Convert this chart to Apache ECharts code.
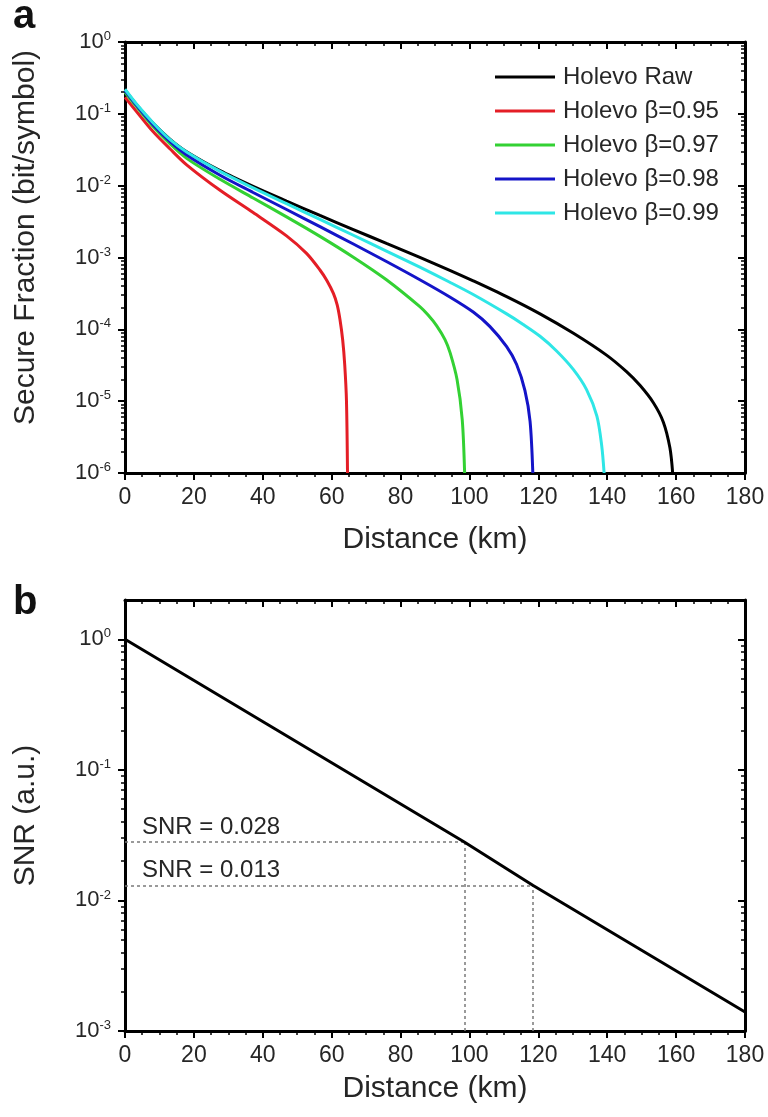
<!DOCTYPE html>
<html><head><meta charset="utf-8">
<script src="https://cdn.jsdelivr.net/npm/echarts@6/dist/echarts.min.js"></script>
<style>html,body{margin:0;padding:0;background:#fff}#c{width:768px;height:1117px}</style>
</head><body><div id="c"></div>
<script>
// ---- data ----
const seriesNames = ['Holevo Raw', 'Holevo β=0.95', 'Holevo β=0.97', 'Holevo β=0.98', 'Holevo β=0.99'];
const seriesColors = ['#000000', '#e41e26', '#33d133', '#1414c8', '#2ee6e6'];

const rawDist = [0, 3.4, 8.2, 13.1, 17.9, 27.6, 37.2, 46.9, 56.6, 66.3, 75.9, 85.6, 94.3, 101.1, 110.8, 120.5, 130.2, 139.8, 145.6, 149.5, 153.4, 156.3, 158.2, 159.0];
const rawFrac = [0.215, 0.133, 0.0738, 0.0442, 0.0297, 0.0162, 0.00977, 0.0061, 0.00385, 0.00245, 0.00157, 0.001005, 0.000664, 0.000473, 0.000285, 0.000164, 8.8e-5, 4.37e-5, 2.57e-5, 1.66e-5, 9.5e-6, 5.1e-6, 2.24e-6, 1e-6];

const b95Dist = [0, 3.4, 8.2, 13.1, 17.9, 27.6, 37.2, 46.9, 52.7, 56.6, 58.6, 60.5, 61.6, 62.4, 63.2, 63.8, 64.3, 64.6];
const b95Frac = [0.17, 0.107, 0.0562, 0.0324, 0.0195, 0.00861, 0.00422, 0.002, 0.00114, 0.00067, 0.000479, 0.000316, 0.000219, 0.000138, 7.1e-5, 3.16e-5, 1e-5, 1e-6];

const b97Dist = [0, 3.4, 8.2, 13.1, 17.9, 27.6, 37.2, 46.9, 56.6, 66.3, 75.9, 85.6, 88.0, 90.5, 92.9, 94.4, 96.4, 97.9, 98.6];
const b97Frac = [0.2, 0.125, 0.0661, 0.038, 0.024, 0.01225, 0.00673, 0.00368, 0.00197, 0.00101, 0.00049, 0.000207, 0.000158, 0.000112, 7.2e-5, 4.7e-5, 2.0e-5, 5.6e-6, 1e-6];

const b98Dist = [0, 3.4, 8.2, 13.1, 17.9, 27.6, 37.2, 46.9, 56.6, 66.3, 75.9, 85.6, 94.3, 101.1, 105.9, 110.8, 113.7, 116.1, 117.6, 118.4];
const b98Frac = [0.21, 0.13, 0.0698, 0.0409, 0.0267, 0.01396, 0.00804, 0.00466, 0.00269, 0.00154, 0.000879, 0.00049, 0.000282, 0.000174, 0.00011, 5.75e-5, 3.24e-5, 1.41e-5, 5.25e-6, 1e-6];

const b99Dist = [0, 3.4, 8.2, 13.1, 17.9, 27.6, 37.2, 46.9, 56.6, 66.3, 75.9, 85.6, 94.3, 101.1, 110.8, 115.6, 120.5, 125.3, 130.2, 134.0, 137.0, 138.4, 139.1];
const b99Frac = [0.22, 0.136, 0.0746, 0.0437, 0.0295, 0.0158, 0.00933, 0.00562, 0.00339, 0.00204, 0.00123, 0.000733, 0.000452, 0.000305, 0.000164, 0.000117, 8.0e-5, 5.0e-5, 2.75e-5, 1.45e-5, 6.2e-6, 2.4e-6, 1e-6];

const snrDist = [0, 98.5, 118.5, 180];
const snrVal = [1.0, 0.028, 0.013, 0.0014];

const markDist = [98.5, 118.5];
const markSnr = [0.028, 0.013];
const markText = ['SNR = 0.028', 'SNR = 0.013'];

const topExponents = [0, -1, -2, -3, -4, -5, -6];
const bottomExponents = [0, -1, -2, -3];

// ---- helpers ----
const FONT = '"Liberation Sans", Arial, Helvetica, sans-serif';
const INK = '#262626';
const pairs = (xs, ys) => xs.map((x, i) => [x, ys[i]]);

function xAxesFor(grid, nameGap) {
  const common = {
    type: 'value', gridIndex: grid, min: 0, max: 180, interval: 20,
    splitLine: {show: false},
    axisLine: {show: true, onZero: false, lineStyle: {color: '#000', width: 3}},
    minorTick: {show: true, splitNumber: 4, length: 4, lineStyle: {color: '#000', width: 1.5}}
  };
  return [
    Object.assign({}, common, {
      position: 'bottom',
      axisTick: {show: true, length: 7, lineStyle: {color: '#000', width: 2}},
      axisLabel: {show: true, margin: 13, fontSize: 23, color: INK, fontFamily: FONT},
      name: 'Distance (km)', nameLocation: 'middle', nameGap: nameGap,
      nameTextStyle: {fontSize: 30, color: INK, fontFamily: FONT}
    }),
    Object.assign({}, common, {
      position: 'top',
      axisTick: {show: true, inside: true, length: 7, lineStyle: {color: '#000', width: 2}},
      axisLabel: {show: false}
    })
  ];
}

function yAxesFor(grid, logMin, logMax, exps, name, namePad) {
  const lo = Math.log10(logMin), hi = Math.log10(logMax);
  const minors = [];
  for (let d = Math.floor(lo); d < Math.ceil(hi); d++) {
    for (let k = 2; k <= 9; k++) {
      const v = d + Math.log10(k);
      if (v > lo && v < hi - 1e-6) minors.push(v);
    }
  }
  const hidden = {
    type: 'value', gridIndex: grid, min: lo, max: hi,
    splitLine: {show: false}, axisLine: {show: false, onZero: false},
    axisLabel: {show: false}
  };
  return [
    { // data axis
      type: 'log', logBase: 10, gridIndex: grid, min: logMin, max: logMax, position: 'left',
      splitLine: {show: false}, axisTick: {show: false}, axisLabel: {show: false},
      axisLine: {show: true, onZero: false, lineStyle: {color: '#000', width: 3}}
    },
    Object.assign({}, hidden, { // labels + major ticks, left
      position: 'left',
      axisTick: {show: true, length: 7, customValues: exps, lineStyle: {color: '#000', width: 2}},
      axisLabel: {
        show: true, margin: 14, customValues: exps,
        formatter: v => '{b|10}{s|' + Math.round(v) + '}',
        rich: {
          b: {fontSize: 22, lineHeight: 24, color: INK, fontFamily: FONT},
          s: {fontSize: 13, lineHeight: 14, color: INK, fontFamily: FONT, verticalAlign: 'top'}
        }
      },
      name: name, nameLocation: 'middle', nameGap: 84,
      nameTextStyle: {fontSize: 30, color: INK, fontFamily: FONT, padding: namePad}
    }),
    Object.assign({}, hidden, { // minor ticks, left
      position: 'left',
      axisTick: {show: true, length: 4, customValues: minors, lineStyle: {color: '#000', width: 1.5}}
    }),
    Object.assign({}, hidden, { // right frame + major ticks
      position: 'right',
      axisLine: {show: true, onZero: false, lineStyle: {color: '#000', width: 3}},
      axisTick: {show: true, inside: true, length: 7, customValues: exps, lineStyle: {color: '#000', width: 2}}
    }),
    Object.assign({}, hidden, { // right minor ticks
      position: 'right',
      axisTick: {show: true, inside: true, length: 4, customValues: minors, lineStyle: {color: '#000', width: 1.5}}
    })
  ];
}

const topData = [
  pairs(rawDist, rawFrac), pairs(b95Dist, b95Frac), pairs(b97Dist, b97Frac),
  pairs(b98Dist, b98Frac), pairs(b99Dist, b99Frac)
];

const topSeries = seriesNames.map((n, i) => ({
  name: n, type: 'line', xAxisIndex: 0, yAxisIndex: 0,
  data: topData[i], showSymbol: false, symbol: 'none',
  smooth: 0.3,
  lineStyle: {color: seriesColors[i], width: 3},
  itemStyle: {color: seriesColors[i]},
  z: 3 + i
}));

const dashStyle = {type: [3, 3], color: '#7a7a7a', width: 1.5};
const markLines = [];
markDist.forEach((d, i) => {
  markLines.push([
    {coord: [0, markSnr[i]], label: {show: true, position: 'insideStartTop', formatter: markText[i],
      fontSize: 24, color: INK, fontFamily: FONT, distance: [17, 3]}},
    {coord: [d, markSnr[i]]}
  ]);
  markLines.push([
    {coord: [d, 0.001], label: {show: false}},
    {coord: [d, markSnr[i]]}
  ]);
});

const snrSeries = {
  name: 'SNR', type: 'line', xAxisIndex: 2, yAxisIndex: 5,
  data: pairs(snrDist, snrVal), showSymbol: false, symbol: 'none',
  lineStyle: {color: '#000', width: 3}, z: 5,
  markLine: {
    silent: true, symbol: 'none', animation: false,
    lineStyle: dashStyle,
    data: markLines
  }
};

const option = {
  animation: false,
  backgroundColor: '#fff',
  title: [
    {text: 'a', left: 13, top: -3, padding: 0, textStyle: {fontSize: 40, fontWeight: 'bold', color: '#111', fontFamily: FONT}},
    {text: 'b', left: 13, top: 583, padding: 0, textStyle: {fontSize: 40, fontWeight: 'bold', color: '#111', fontFamily: FONT}}
  ],
  grid: [
    {left: 125, top: 42, width: 620, height: 431},
    {left: 125, top: 600, width: 620, height: 431}
  ],
  legend: {
    data: seriesNames.map((n, i) => ({name: n, icon: 'rect', itemStyle: {color: seriesColors[i]}})),
    orient: 'vertical', left: 490, top: 60,
    itemWidth: 60, itemHeight: 3, itemGap: 10,
    textStyle: {fontSize: 24, color: INK, fontFamily: FONT, padding: [0, 0, 0, 3]}
  },
  xAxis: [].concat(xAxesFor(0, 52), xAxesFor(1, 43)),
  yAxis: [].concat(
    yAxesFor(0, 1e-6, 1, topExponents, 'Secure Fraction (bit/symbol)', [0, 0, 0, 40]),
    yAxesFor(1, 0.001, 2, bottomExponents, 'SNR (a.u.)', [0, 0, 0, 0])
  ),
  series: topSeries.concat([snrSeries])
};

const chart = echarts.init(document.getElementById('c'), null, {renderer: 'canvas'});
chart.setOption(option);
</script>
</body></html>
